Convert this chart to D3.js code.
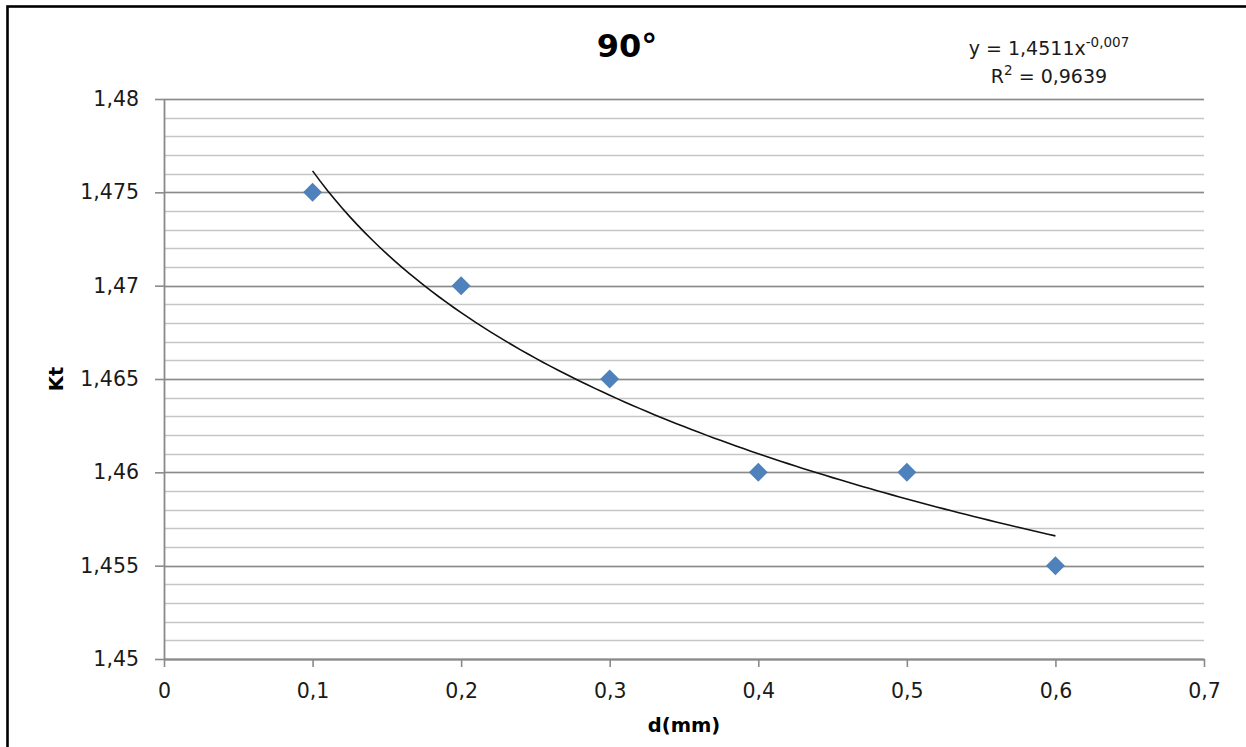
<!DOCTYPE html>
<html>
<head>
<meta charset="utf-8">
<script src="https://cdn.jsdelivr.net/npm/d3@7/dist/d3.min.js"></script>
<style>
  html, body { margin: 0; padding: 0; background: #fff; overflow: hidden; }
  svg { display: block; overflow: hidden; }
  text { font-family: "DejaVu Sans", Verdana, sans-serif; }
</style>
</head>
<body>
<svg id="chart" width="1246" height="747"></svg>
<script>
// ---- data ----
const titleText = "90°";
const xLabel = "d(mm)";
const yLabel = "Kt";
const dValues = [0.1, 0.2, 0.3, 0.4, 0.5, 0.6];
const ktValues = [1.475, 1.47, 1.465, 1.46, 1.46, 1.455];
const xTicks = [0, 0.1, 0.2, 0.3, 0.4, 0.5, 0.6, 0.7];
const xTickLabels = ["0", "0,1", "0,2", "0,3", "0,4", "0,5", "0,6", "0,7"];
const yTicks = [1.45, 1.455, 1.46, 1.465, 1.47, 1.475, 1.48];
const yTickLabels = ["1,45", "1,455", "1,46", "1,465", "1,47", "1,475", "1,48"];
const yMinorTicks = d3.range(0, 31).map(i => 1.45 + i * 0.001);
const eqMain = "y = 1,4511x";
const eqExp = "-0,007";
const r2Text = "0,9639";

const svg = d3.select("#chart");

// outer frame (continues past the right and bottom edges)
svg.append("rect")
  .attr("x", 7.5).attr("y", 6.5)
  .attr("width", 1300).attr("height", 800)
  .attr("fill", "#fff")
  .attr("stroke", "#000").attr("stroke-width", 2.6);

const x = d3.scaleLinear().domain([0, 0.7]).range([164, 1204]);
const y = d3.scaleLinear().domain([1.45, 1.48]).range([659, 99]);

// minor gridlines
svg.append("g").selectAll("line")
  .data(yMinorTicks)
  .join("line")
  .attr("x1", x(0)).attr("x2", x(0.7))
  .attr("y1", d => Math.round(y(d)) + 0.5)
  .attr("y2", d => Math.round(y(d)) + 0.5)
  .attr("stroke", "#c6c6c6").attr("stroke-width", 1.6);

// major gridlines
svg.append("g").selectAll("line")
  .data(yTicks)
  .join("line")
  .attr("x1", x(0)).attr("x2", x(0.7))
  .attr("y1", d => Math.round(y(d)) + 0.5)
  .attr("y2", d => Math.round(y(d)) + 0.5)
  .attr("stroke", "#8a8a8a").attr("stroke-width", 1.6);

// y axis
const yAxis = d3.axisLeft(y)
  .tickValues(yTicks)
  .tickFormat((d, i) => yTickLabels[i])
  .tickSize(9).tickPadding(16).tickSizeOuter(0);
const gy = svg.append("g").attr("transform", `translate(${x(0)},0)`).call(yAxis);
gy.select(".domain").attr("stroke", "#8a8a8a").attr("stroke-width", 1.8);
gy.selectAll(".tick line").attr("stroke", "#8a8a8a").attr("stroke-width", 1.6);
gy.selectAll("text").attr("font-size", 20.5).attr("fill", "#1a1a1a")
  .attr("font-family", "DejaVu Sans, Verdana, sans-serif");

// x axis
const xAxis = d3.axisBottom(x)
  .tickValues(xTicks)
  .tickFormat((d, i) => xTickLabels[i])
  .tickSize(8).tickPadding(16).tickSizeOuter(0);
const gx = svg.append("g").attr("transform", `translate(0,${y(1.45)})`).call(xAxis);
gx.select(".domain").attr("stroke", "#8a8a8a").attr("stroke-width", 1.8);
gx.selectAll(".tick line").attr("stroke", "#8a8a8a").attr("stroke-width", 1.6);
gx.selectAll("text").attr("font-size", 20.5).attr("fill", "#1a1a1a")
  .attr("font-family", "DejaVu Sans, Verdana, sans-serif");

// power trend line (least squares on log-log, as the spreadsheet does)
const lx = dValues.map(Math.log), ly = ktValues.map(Math.log);
const mx = d3.mean(lx), my = d3.mean(ly);
const b = d3.sum(lx.map((v, i) => (v - mx) * (ly[i] - my))) / d3.sum(lx.map(v => (v - mx) ** 2));
const a = Math.exp(my - b * mx);
const xs = d3.range(0, 101).map(i => dValues[0] + (dValues[dValues.length - 1] - dValues[0]) * i / 100);
svg.append("path")
  .datum(xs)
  .attr("fill", "none")
  .attr("stroke", "#111")
  .attr("stroke-width", 1.6)
  .attr("d", d3.line().x(d => x(d)).y(d => y(a * Math.pow(d, b))));

// markers
svg.append("g").selectAll("path")
  .data(dValues.map((d, i) => [d, ktValues[i]]))
  .join("path")
  .attr("transform", d => `translate(${x(d[0])},${y(d[1])})`)
  .attr("d", "M0,-9.5L9.5,0L0,9.5L-9.5,0Z")
  .attr("fill", "#4f81bd");

// title
svg.append("text")
  .attr("x", 627).attr("y", 57)
  .attr("text-anchor", "middle")
  .attr("font-size", 32).attr("font-weight", "bold")
  .attr("fill", "#000")
  .text(titleText);

// equation
const eq = svg.append("text")
  .attr("x", 1049).attr("y", 55)
  .attr("text-anchor", "middle")
  .attr("font-size", 19).attr("fill", "#1a1a1a");
eq.append("tspan").text(eqMain);
eq.append("tspan").attr("dy", -8).attr("font-size", 13.5).text(eqExp);

const r2 = svg.append("text")
  .attr("x", 1049).attr("y", 83)
  .attr("text-anchor", "middle")
  .attr("font-size", 19).attr("fill", "#1a1a1a");
r2.append("tspan").text("R");
r2.append("tspan").attr("dy", -8).attr("font-size", 13.5).text("2");
r2.append("tspan").attr("dy", 8).text(" = " + r2Text);

// axis titles
svg.append("text")
  .attr("x", 684).attr("y", 732)
  .attr("text-anchor", "middle")
  .attr("font-size", 19.5).attr("font-weight", "bold")
  .attr("fill", "#000")
  .text(xLabel);

svg.append("text")
  .attr("transform", "translate(63,379) rotate(-90)")
  .attr("text-anchor", "middle")
  .attr("font-size", 19.5).attr("font-weight", "bold")
  .attr("fill", "#000")
  .text(yLabel);
</script>
</body>
</html>
